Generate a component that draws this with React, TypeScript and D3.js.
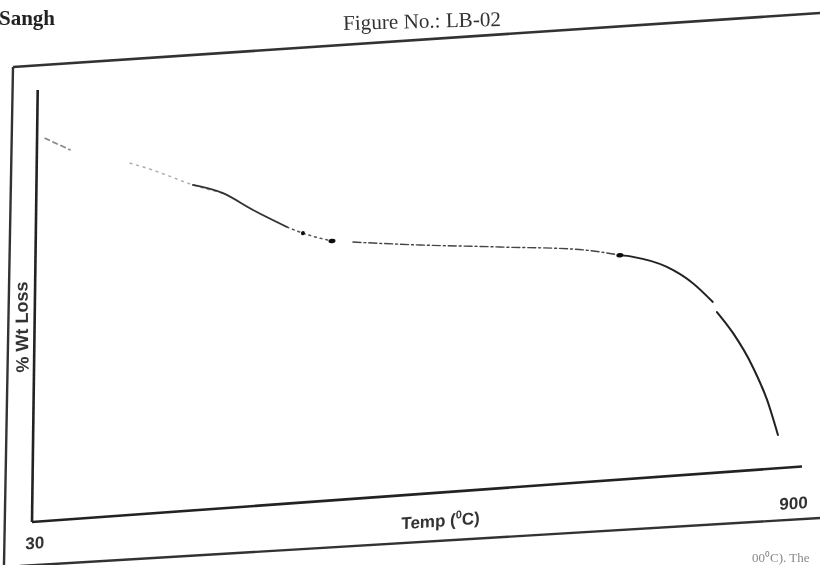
import React from 'react';
import * as d3 from 'd3';

// TGA trace (temperature in deg C, weight in % of axis height)
const tempC = [35.7, 64.5, 133.6, 160.1, 176.1, 206.1, 240.6, 275.4, 314.6, 333.0, 366.5, 390.6, 467.4,
  559.3, 674.1, 697.0, 712.0, 751.1, 781.2, 804.4, 809.2, 827.9, 851.2, 868.1, 881.1];
const wtPct = [88.7, 85.6, 81.5, 79.5, 78.1, 75.4, 73.0, 68.6, 64.1, 62.4, 60.1, 59.5, 57.7,
  55.9, 53.1, 52.0, 51.4, 48.5, 44.3, 39.6, 37.2, 32.1, 23.9, 16.0, 7.7];
const tickTemps = [30, 900];
const tickLabels = ['30', '900'];
const blobIdx = [9, 10, 15];

const W = 770, H = 432;
const sans = '"Liberation Sans", Arial, sans-serif';
const serif = '"Liberation Serif", "Times New Roman", serif';

export default function App() {
  const x = d3.scaleLinear().domain([30, 900]).range([3, 762]);
  const y = d3.scaleLinear().domain([0, 100]).range([0, -H]);
  const pts: [number, number][] = tempC.map((t, i) => [x(t), y(wtPct[i])]);
  const line = d3.line().curve(d3.curveMonotoneX);

  // how the scanned trace looks along its length
  const segs = [
    { from: 0, to: 1, dash: '5 4', color: '#888', w: 1.6 },
    { from: 2, to: 6, dash: '2 5', color: '#aaa', w: 1.4 },
    { from: 5, to: 8, dash: null, color: '#333', w: 1.8 },
    { from: 8, to: 10, dash: '2 4', color: '#555', w: 1.5 },
    { from: 11, to: 15, dash: '8 3 2 3', color: '#444', w: 1.4 },
    { from: 15, to: 19, dash: null, color: '#222', w: 1.8 },
    { from: 20, to: 24, dash: null, color: '#222', w: 2 },
  ];

  return (
    <svg width={820} height={565} style={{ position: 'absolute', left: 0, top: 0, background: '#fff' }}>
      <defs>
        <filter id="scan">
          <feGaussianBlur stdDeviation="0.55" />
        </filter>
      </defs>
      <g filter="url(#scan)">
        <text x={-1} y={25} fontFamily={serif} fontWeight="bold" fontSize={21} fill="#222">Sangh</text>
        <text x={343} y={28} fontFamily={serif} fontSize={21} fill="#333" textLength={158}
          lengthAdjust="spacingAndGlyphs" transform="rotate(-1.5 420 22)">Figure No.: LB-02</text>

        {/* page frame */}
        <line x1={13} y1={67} x2={820} y2={13} stroke="#333" strokeWidth={2.6} />
        <line x1={13} y1={67} x2={4} y2={565} stroke="#333" strokeWidth={2.4} />
        <line x1={20} y1={566} x2={820} y2={518} stroke="#333" strokeWidth={2.4} />
        <text x={752} y={562} fontFamily={serif} fontSize={13} fill="#888">00⁰C). The</text>

        <text transform="translate(22,327) rotate(-90.8)" textAnchor="middle" dominantBaseline="central"
          fontFamily={sans} fontWeight="bold" fontSize={18} fill="#333">% Wt Loss</text>

        <g transform="matrix(1 -0.0721 -0.0132 1 32 522)">
          <line x1={0} y1={0} x2={W} y2={0} stroke="#222" strokeWidth={2.6} />
          <line x1={0} y1={0} x2={0} y2={-H} stroke="#222" strokeWidth={2.6} />

          {segs.map((s, i) => (
            <path key={i} d={line(pts.slice(s.from, s.to + 1)) || ''} fill="none"
              stroke={s.color} strokeWidth={s.w} strokeDasharray={s.dash || undefined}
              strokeLinecap="round" />
          ))}
          {blobIdx.map((i, k) => (
            <ellipse key={k} cx={pts[i][0]} cy={pts[i][1]} rx={k === 0 ? 2 : 3.5} ry={2.2} fill="#111" />
          ))}

          {tickTemps.map((t, i) => (
            <text key={t} x={x(t)} y={i === 0 ? 27 : 42} textAnchor="middle" fontFamily={sans}
              fontWeight="bold" fontSize={17} fill="#333">{tickLabels[i]}</text>
          ))}
          <text x={409} y={34} textAnchor="middle" fontFamily={sans} fontWeight="bold" fontSize={17} fill="#333">
            Temp (<tspan fontSize={11} dy={-7}>0</tspan><tspan dy={7}>C)</tspan>
          </text>
        </g>
      </g>
    </svg>
  );
}
